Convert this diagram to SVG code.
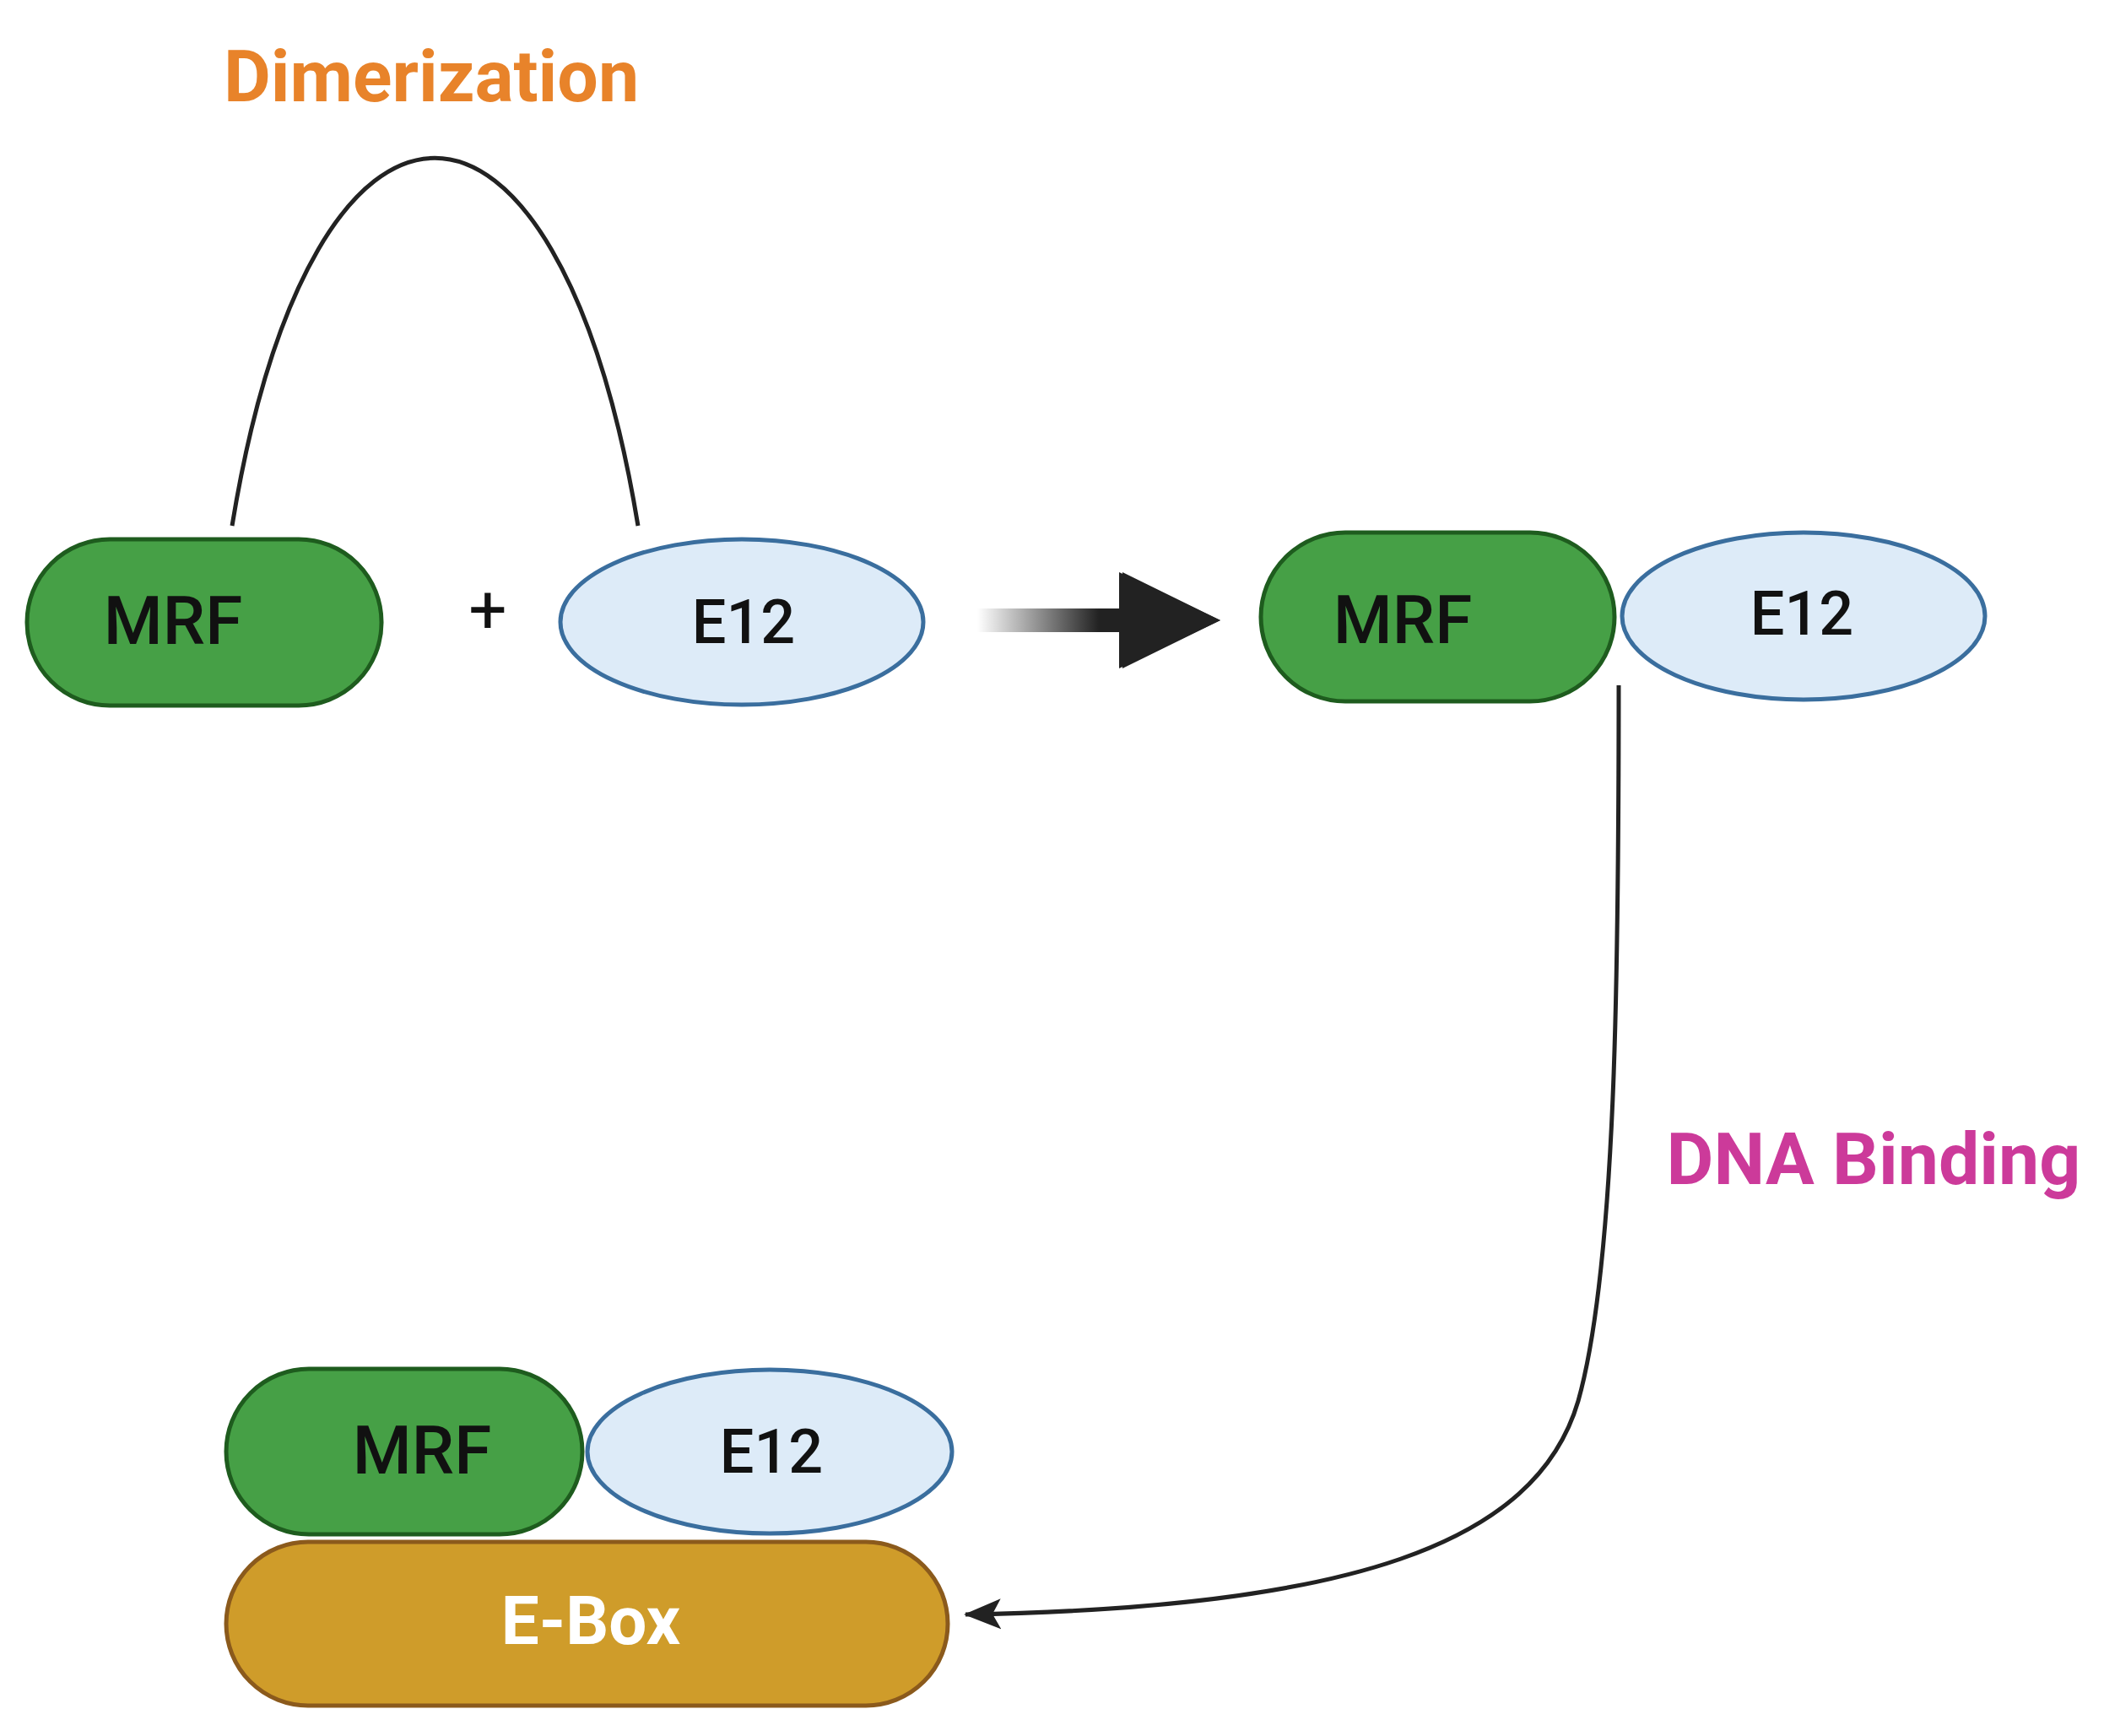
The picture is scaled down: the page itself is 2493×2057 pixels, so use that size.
<svg xmlns="http://www.w3.org/2000/svg" width="2493" height="2057" viewBox="0 0 2493 2057">
<style>
.mrf{fill:#46a046;stroke:#1e5c1e;stroke-width:5}
.e12{fill:#ddebf8;stroke:#3a6e9e;stroke-width:5}
.t{font-family:Roboto,"Liberation Sans",sans-serif;font-weight:500;fill:#111;text-anchor:middle}
.lbl{font-family:Roboto,"Liberation Sans",sans-serif;font-weight:700;font-size:86px;text-anchor:middle}
.ln{fill:none;stroke:#222;stroke-width:5}
</style>
<defs>
<linearGradient id="ag" x1="0" x2="1" y1="0" y2="0"><stop offset="0" stop-color="#222" stop-opacity="0"/><stop offset="0.5" stop-color="#222"/></linearGradient>
<marker id="ah" markerWidth="44" markerHeight="44" refX="42" refY="22" orient="auto" markerUnits="userSpaceOnUse" viewBox="0 0 44 44"><path d="M0,4 L44,22 L0,40 L10,22 Z" fill="#222"/></marker>
</defs>
<g id="connectors">
<path class="ln" d="M275,623 C370,42 660,42 756,623"/>
<path class="ln" d="M1918,812 C1918,1150 1915,1500 1870,1660 C1820,1830 1600,1905 1144,1913" marker-end="url(#ah)"/>
<path d="M1158,721 L1330,721 L1330,678 L1446,735 L1330,792 L1330,749 L1158,749 Z" fill="url(#ag)"/>
<path d="M1326,678 L1446,735 L1326,792 Z" fill="#222"/>
</g>
<g id="label-dimerization"><text class="lbl" x="511" y="120" fill="#e8832a">Dimerization</text></g>
<g id="label-dna"><text class="lbl" x="2220" y="1403" fill="#cc3a9a">DNA Binding</text></g>
<g id="mrf1"><rect class="mrf" x="32" y="639" width="420" height="197" rx="98"/><text class="t" x="205" y="763" font-size="80">MRF</text></g>
<g id="plus"><text class="t" x="578" y="750" style="font-size:80px;font-weight:400">+</text></g>
<g id="e12-1"><ellipse class="e12" cx="879" cy="737" rx="215" ry="98"/><text class="t" x="881" y="762" font-size="72">E12</text></g>
<g id="mrf2"><rect class="mrf" x="1494" y="631" width="419" height="200" rx="100"/><text class="t" x="1662" y="762" font-size="80">MRF</text></g>
<g id="e12-2"><ellipse class="e12" cx="2137" cy="730" rx="215" ry="99"/><text class="t" x="2135" y="752" font-size="72">E12</text></g>
<g id="ebox"><rect x="268" y="1827" width="855" height="194" rx="97" fill="#cf9c2a" stroke="#8b5a1c" stroke-width="5"/><text class="t" x="700" y="1948" style="font-size:80px;font-weight:700;fill:#fff">E-Box</text></g>
<g id="mrf3"><rect class="mrf" x="268" y="1622" width="422" height="196" rx="98"/><text class="t" x="500" y="1746" font-size="80">MRF</text></g>
<g id="e12-3"><ellipse class="e12" cx="912" cy="1720" rx="216" ry="97"/><text class="t" x="914" y="1745" font-size="72">E12</text></g>
</svg>
